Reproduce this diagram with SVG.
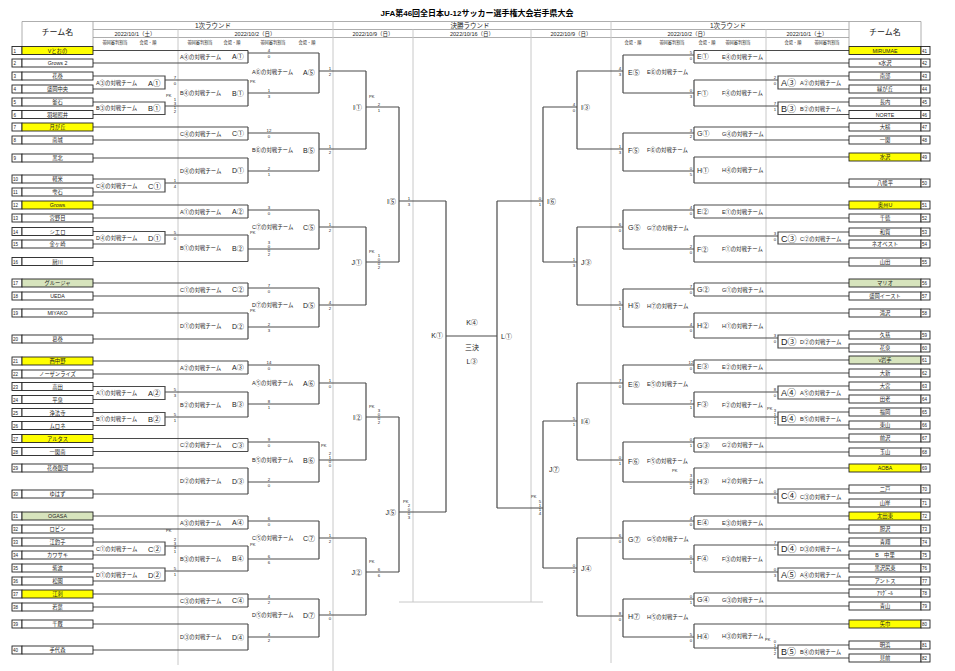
<svg xmlns="http://www.w3.org/2000/svg" width="955" height="671" viewBox="0 0 955 671">
<style>
text{font-family:"Liberation Sans","Noto Sans CJK JP",sans-serif;fill:#222}
.g{stroke:#c8c8c8;stroke-width:1;fill:none}
.gh{stroke:#999;stroke-width:0.8;fill:none}
.c{stroke:#4a4a4a;stroke-width:1.2;fill:none}
.nb{fill:#fff;stroke:#222;stroke-width:0.9}
.nm{fill:#fff;stroke:#222;stroke-width:0.9}
.y{fill:#ffff00}
.gr{fill:#d7e4bd}
.no{font-size:4.5px}
.tn{font-size:5.3px;text-anchor:middle}
.lb{font-size:5.4px}
.cd{font-size:7.5px}
.cl{font-size:9px}
.rd{font-size:7px}
.sc{font-size:4.3px;text-anchor:middle;fill:#5a78b0}
.pk{font-size:4px;fill:#333}
.hd{font-size:6.5px;text-anchor:middle}
.dt{font-size:5.5px;text-anchor:middle}
.sb{font-size:4.2px;text-anchor:middle}
.ti{font-size:8px;font-weight:bold;text-anchor:middle;fill:#000}
.ce{font-size:7px;text-anchor:middle}
</style>

<g id="header">
<text class="ti" x="477" y="16">JFA第46回全日本U-12サッカー選手権大会岩手県大会</text>
<path class="gh" d="M22 21.5H921 M93 29.5H849 M93 37.5H849 M22 21.5V46 M93 21.5V46 M849 21.5V46 M921 21.5V46"/>
<text class="hd" x="57.5" y="35" style="font-size:8px">チーム名</text>
<text class="hd" x="885" y="35" style="font-size:8px">チーム名</text>
<text class="hd" x="213" y="27.5">1次ラウンド</text>
<text class="hd" x="470" y="27.5">決勝ラウンド</text>
<text class="hd" x="728" y="27.5">1次ラウンド</text>
<text class="dt" x="135" y="35.5">2022/10/1（土）</text>
<text class="dt" x="255" y="35.5">2022/10/2（日）</text>
<text class="dt" x="373" y="35.5">2022/10/9（日）</text>
<text class="dt" x="472" y="35.5">2022/10/16（日）</text>
<text class="dt" x="571" y="35.5">2022/10/9（日）</text>
<text class="dt" x="688" y="35.5">2022/10/2（日）</text>
<text class="dt" x="807" y="35.5">2022/10/1（土）</text>
<text class="sb" x="115" y="44">帯同審判割当</text>
<text class="sb" x="148" y="44">会場・順</text>
<text class="sb" x="200" y="44">帯同審判割当</text>
<text class="sb" x="232" y="44">会場・順</text>
<text class="sb" x="273" y="44">帯同審判割当</text>
<text class="sb" x="307" y="44">会場・順</text>
<text class="sb" x="633" y="44">会場・順</text>
<text class="sb" x="672" y="44">帯同審判割当</text>
<text class="sb" x="707" y="44">会場・順</text>
<text class="sb" x="738" y="44">帯同審判割当</text>
<text class="sb" x="793" y="44">会場・順</text>
<text class="sb" x="827" y="44">帯同審判割当</text>
</g>

<g id="grid">
<path class="g" d="M178 29.5V665 M333 21.5V671 M413 29.5V602 M531 29.5V602 M611 21.5V663 M766 29.5V640 M399 602H543"/>
</g>

<g id="connectors" class="c">
<path d="M93 50.5H248 M93 63H248 M93 127H248 M93 140H248 M93 158H248 M93 205H248 M93 218H248 M93 261.5H248 M93 283H248 M93 296H248 M93 313H248 M93 339H248 M93 361H248 M93 374H248 M93 438.5H248 M93 451.5H248 M93 468H248 M93 494H248 M93 516H248 M93 529H248 M93 594H248 M93 607H248 M93 624H248 M93 650H248"/>
<path d="M93 76H165V89H93 M93 102H165V114.5H93 M93 179H165V192H93 M93 231.5H165V244H93 M93 386.5H165V399.5H93 M93 412.5H165V425.5H93 M93 542H165V555H93 M93 568H165V581H93"/>
<path d="M165 80H248 M165 106H248 M165 183H248 M165 235H248 M165 392H248 M165 417H248 M165 546H248 M165 571H248"/>
<path d="M248 50.5V63 M248 80V106 M248 127V140 M248 158V183 M248 205V218 M248 235V261.5 M248 283V296 M248 313V339 M248 361V374 M248 392V417 M248 438.5V451.5 M248 468V494 M248 516V529 M248 546V571 M248 594V607 M248 624V650"/>
<path d="M248 53H319 M248 93H319 M248 133H319 M248 171H319 M248 210H319 M248 249H319 M248 288H319 M248 327H319 M248 365H319 M248 404H319 M248 442H319 M248 482H319 M248 521H319 M248 559H319 M248 599H319 M248 637H319"/>
<path d="M319 53V93 M319 133V171 M319 210V249 M319 288V327 M319 365V404 M319 442V482 M319 521V559 M319 599V637"/>
<path d="M319 71H366 M319 149H366 M319 227H366 M319 305H366 M319 383H366 M319 460H366 M319 538H366 M319 615H366"/>
<path d="M366 71V149 M366 227V305 M366 383V460 M366 538V615 M366 107H399 M366 262H399 M366 417H399 M366 572H399"/>
<path d="M399 107V262 M399 417V572 M399 201H446 M399 512H446"/>
<path d="M446 201V512 M446 336H497 M497 201V508"/>
<path d="M497 201H543 M497 508H543 M543 107V262 M543 421V568 M543 107H577 M543 262H577 M543 421H577 M543 568H577"/>
<path d="M577 71V149 M577 227V305 M577 383V460 M577 538V616 M577 71H623 M577 149H623 M577 227H623 M577 305H623 M577 383H623 M577 460H623 M577 538H623 M577 616H623"/>
<path d="M623 55V93 M623 133V171 M623 210V249 M623 289V327 M623 365V404 M623 442V482 M623 521V559 M623 599V637"/>
<path d="M623 55H694 M623 93H694 M623 133H694 M623 171H694 M623 210H694 M623 249H694 M623 289H694 M623 327H694 M623 365H694 M623 404H694 M623 442H694 M623 482H694 M623 521H694 M623 559H694 M623 599H694 M623 637H694"/>
<path d="M694 50.5V63 M694 80V106 M694 127V140 M694 157V183 M694 205V218 M694 236V262 M694 283V296 M694 313V338 M694 360V373 M694 392V417 M694 438V452 M694 468V494 M694 516V529 M694 545V572 M694 593V606 M694 624V648"/>
<path d="M694 80H778 M694 106H778 M694 236H778 M694 338H778 M694 392H778 M694 417H778 M694 494H778 M694 545H778 M694 572H778 M694 648H778"/>
<path d="M849 76H778V89H849 M849 102H778V114.5H849 M849 232H778V244H849 M849 335H778V348H849 M849 386H778V399H849 M849 412H778V425H849 M849 489H778V503H849 M849 542H778V555H849 M849 568H778V581H849 M849 645H778V658H849"/>
<path d="M849 50.5H694 M849 63H694 M849 127H694 M849 140H694 M849 157H694 M849 183H694 M849 205H694 M849 218H694 M849 262H694 M849 283H694 M849 296H694 M849 313H694 M849 360H694 M849 373H694 M849 438H694 M849 452H694 M849 468H694 M849 516H694 M849 529H694 M849 593H694 M849 606H694 M849 624H694"/>
</g>

<g id="teams-left">
<g id="t1"><rect class="nb" x="12" y="46.5" width="10" height="8"/><rect class="nm y" x="22" y="46.5" width="71" height="8"/><text class="no" x="13.5" y="52.5">1</text><text class="tn" x="57.5" y="52.5">Vとおの</text></g>
<g id="t2"><rect class="nb" x="12" y="59" width="10" height="8"/><rect class="nm" x="22" y="59" width="71" height="8"/><text class="no" x="13.5" y="65">2</text><text class="tn" x="57.5" y="65">Grows 2</text></g>
<g id="t3"><rect class="nb" x="12" y="72" width="10" height="8"/><rect class="nm" x="22" y="72" width="71" height="8"/><text class="no" x="13.5" y="78">3</text><text class="tn" x="57.5" y="78">花巻</text></g>
<g id="t4"><rect class="nb" x="12" y="85" width="10" height="8"/><rect class="nm" x="22" y="85" width="71" height="8"/><text class="no" x="13.5" y="91">4</text><text class="tn" x="57.5" y="91">盛岡中央</text></g>
<g id="t5"><rect class="nb" x="12" y="98" width="10" height="8"/><rect class="nm" x="22" y="98" width="71" height="8"/><text class="no" x="13.5" y="104">5</text><text class="tn" x="57.5" y="104">釜石</text></g>
<g id="t6"><rect class="nb" x="12" y="110.5" width="10" height="8"/><rect class="nm" x="22" y="110.5" width="71" height="8"/><text class="no" x="13.5" y="116.5">6</text><text class="tn" x="57.5" y="116.5">羽場照井</text></g>
<g id="t7"><rect class="nb" x="12" y="123" width="10" height="8"/><rect class="nm y" x="22" y="123" width="71" height="8"/><text class="no" x="13.5" y="129">7</text><text class="tn" x="57.5" y="129">月が丘</text></g>
<g id="t8"><rect class="nb" x="12" y="136" width="10" height="8"/><rect class="nm" x="22" y="136" width="71" height="8"/><text class="no" x="13.5" y="142">8</text><text class="tn" x="57.5" y="142">南城</text></g>
<g id="t9"><rect class="nb" x="12" y="154" width="10" height="8"/><rect class="nm" x="22" y="154" width="71" height="8"/><text class="no" x="13.5" y="160">9</text><text class="tn" x="57.5" y="160">黒北</text></g>
<g id="t10"><rect class="nb" x="12" y="175" width="10" height="8"/><rect class="nm" x="22" y="175" width="71" height="8"/><text class="no" x="13" y="181">10</text><text class="tn" x="57.5" y="181">軽米</text></g>
<g id="t11"><rect class="nb" x="12" y="188" width="10" height="8"/><rect class="nm" x="22" y="188" width="71" height="8"/><text class="no" x="13" y="194">11</text><text class="tn" x="57.5" y="194">雫石</text></g>
<g id="t12"><rect class="nb" x="12" y="201" width="10" height="8"/><rect class="nm y" x="22" y="201" width="71" height="8"/><text class="no" x="13" y="207">12</text><text class="tn" x="57.5" y="207">Grows</text></g>
<g id="t13"><rect class="nb" x="12" y="214" width="10" height="8"/><rect class="nm" x="22" y="214" width="71" height="8"/><text class="no" x="13" y="220">13</text><text class="tn" x="57.5" y="220">宮野目</text></g>
<g id="t14"><rect class="nb" x="12" y="227.5" width="10" height="8"/><rect class="nm" x="22" y="227.5" width="71" height="8"/><text class="no" x="13" y="233.5">14</text><text class="tn" x="57.5" y="233.5">シエロ</text></g>
<g id="t15"><rect class="nb" x="12" y="240" width="10" height="8"/><rect class="nm" x="22" y="240" width="71" height="8"/><text class="no" x="13" y="246">15</text><text class="tn" x="57.5" y="246">金ヶ崎</text></g>
<g id="t16"><rect class="nb" x="12" y="257.5" width="10" height="8"/><rect class="nm" x="22" y="257.5" width="71" height="8"/><text class="no" x="13" y="263.5">16</text><text class="tn" x="57.5" y="263.5">厨川</text></g>
<g id="t17"><rect class="nb" x="12" y="279" width="10" height="8"/><rect class="nm gr" x="22" y="279" width="71" height="8"/><text class="no" x="13" y="285">17</text><text class="tn" x="57.5" y="285">グルージャ</text></g>
<g id="t18"><rect class="nb" x="12" y="292" width="10" height="8"/><rect class="nm" x="22" y="292" width="71" height="8"/><text class="no" x="13" y="298">18</text><text class="tn" x="57.5" y="298">UEDA</text></g>
<g id="t19"><rect class="nb" x="12" y="309" width="10" height="8"/><rect class="nm" x="22" y="309" width="71" height="8"/><text class="no" x="13" y="315">19</text><text class="tn" x="57.5" y="315">MIYAKO</text></g>
<g id="t20"><rect class="nb" x="12" y="335" width="10" height="8"/><rect class="nm" x="22" y="335" width="71" height="8"/><text class="no" x="13" y="341">20</text><text class="tn" x="57.5" y="341">葛巻</text></g>
<g id="t21"><rect class="nb" x="12" y="357" width="10" height="8"/><rect class="nm y" x="22" y="357" width="71" height="8"/><text class="no" x="13" y="363">21</text><text class="tn" x="57.5" y="363">西中野</text></g>
<g id="t22"><rect class="nb" x="12" y="370" width="10" height="8"/><rect class="nm" x="22" y="370" width="71" height="8"/><text class="no" x="13" y="376">22</text><text class="tn" x="57.5" y="376">ノーザンライズ</text></g>
<g id="t23"><rect class="nb" x="12" y="382.5" width="10" height="8"/><rect class="nm" x="22" y="382.5" width="71" height="8"/><text class="no" x="13" y="388.5">23</text><text class="tn" x="57.5" y="388.5">高田</text></g>
<g id="t24"><rect class="nb" x="12" y="395.5" width="10" height="8"/><rect class="nm" x="22" y="395.5" width="71" height="8"/><text class="no" x="13" y="401.5">24</text><text class="tn" x="57.5" y="401.5">平泉</text></g>
<g id="t25"><rect class="nb" x="12" y="408.5" width="10" height="8"/><rect class="nm" x="22" y="408.5" width="71" height="8"/><text class="no" x="13" y="414.5">25</text><text class="tn" x="57.5" y="414.5">浄法寺</text></g>
<g id="t26"><rect class="nb" x="12" y="421.5" width="10" height="8"/><rect class="nm" x="22" y="421.5" width="71" height="8"/><text class="no" x="13" y="427.5">26</text><text class="tn" x="57.5" y="427.5">ムロネ</text></g>
<g id="t27"><rect class="nb" x="12" y="434.5" width="10" height="8"/><rect class="nm y" x="22" y="434.5" width="71" height="8"/><text class="no" x="13" y="440.5">27</text><text class="tn" x="57.5" y="440.5">アルタス</text></g>
<g id="t28"><rect class="nb" x="12" y="447.5" width="10" height="8"/><rect class="nm" x="22" y="447.5" width="71" height="8"/><text class="no" x="13" y="453.5">28</text><text class="tn" x="57.5" y="453.5">一関南</text></g>
<g id="t29"><rect class="nb" x="12" y="464" width="10" height="8"/><rect class="nm" x="22" y="464" width="71" height="8"/><text class="no" x="13" y="470">29</text><text class="tn" x="57.5" y="470">花巻銀河</text></g>
<g id="t30"><rect class="nb" x="12" y="490" width="10" height="8"/><rect class="nm" x="22" y="490" width="71" height="8"/><text class="no" x="13" y="496">30</text><text class="tn" x="57.5" y="496">ゆはず</text></g>
<g id="t31"><rect class="nb" x="12" y="512" width="10" height="8"/><rect class="nm gr" x="22" y="512" width="71" height="8"/><text class="no" x="13" y="518">31</text><text class="tn" x="57.5" y="518">OGASA</text></g>
<g id="t32"><rect class="nb" x="12" y="525" width="10" height="8"/><rect class="nm" x="22" y="525" width="71" height="8"/><text class="no" x="13" y="531">32</text><text class="tn" x="57.5" y="531">ロビン</text></g>
<g id="t33"><rect class="nb" x="12" y="538" width="10" height="8"/><rect class="nm" x="22" y="538" width="71" height="8"/><text class="no" x="13" y="544">33</text><text class="tn" x="57.5" y="544">江釣子</text></g>
<g id="t34"><rect class="nb" x="12" y="551" width="10" height="8"/><rect class="nm" x="22" y="551" width="71" height="8"/><text class="no" x="13" y="557">34</text><text class="tn" x="57.5" y="557">カワサキ</text></g>
<g id="t35"><rect class="nb" x="12" y="564" width="10" height="8"/><rect class="nm" x="22" y="564" width="71" height="8"/><text class="no" x="13" y="570">35</text><text class="tn" x="57.5" y="570">紫波</text></g>
<g id="t36"><rect class="nb" x="12" y="577" width="10" height="8"/><rect class="nm" x="22" y="577" width="71" height="8"/><text class="no" x="13" y="583">36</text><text class="tn" x="57.5" y="583">松園</text></g>
<g id="t37"><rect class="nb" x="12" y="590" width="10" height="8"/><rect class="nm y" x="22" y="590" width="71" height="8"/><text class="no" x="13" y="596">37</text><text class="tn" x="57.5" y="596">江刺</text></g>
<g id="t38"><rect class="nb" x="12" y="603" width="10" height="8"/><rect class="nm" x="22" y="603" width="71" height="8"/><text class="no" x="13" y="609">38</text><text class="tn" x="57.5" y="609">若葉</text></g>
<g id="t39"><rect class="nb" x="12" y="620" width="10" height="8"/><rect class="nm" x="22" y="620" width="71" height="8"/><text class="no" x="13" y="626">39</text><text class="tn" x="57.5" y="626">千厩</text></g>
<g id="t40"><rect class="nb" x="12" y="646" width="10" height="8"/><rect class="nm" x="22" y="646" width="71" height="8"/><text class="no" x="13" y="652">40</text><text class="tn" x="57.5" y="652">手代森</text></g>
</g>

<g id="teams-right">
<g id="t41"><rect class="nm y" x="849" y="46.5" width="72" height="8"/><rect class="nb" x="921" y="46.5" width="9" height="8"/><text class="tn" x="885" y="52.5">MIRUMAE</text><text class="no" x="922" y="52.5">41</text></g>
<g id="t42"><rect class="nm" x="849" y="59" width="72" height="8"/><rect class="nb" x="921" y="59" width="9" height="8"/><text class="tn" x="885" y="65">s水沢</text><text class="no" x="922" y="65">42</text></g>
<g id="t43"><rect class="nm" x="849" y="72" width="72" height="8"/><rect class="nb" x="921" y="72" width="9" height="8"/><text class="tn" x="885" y="78">南部</text><text class="no" x="922" y="78">43</text></g>
<g id="t44"><rect class="nm" x="849" y="85" width="72" height="8"/><rect class="nb" x="921" y="85" width="9" height="8"/><text class="tn" x="885" y="91">緑が丘</text><text class="no" x="922" y="91">44</text></g>
<g id="t45"><rect class="nm" x="849" y="98" width="72" height="8"/><rect class="nb" x="921" y="98" width="9" height="8"/><text class="tn" x="885" y="104">長内</text><text class="no" x="922" y="104">45</text></g>
<g id="t46"><rect class="nm" x="849" y="110.5" width="72" height="8"/><rect class="nb" x="921" y="110.5" width="9" height="8"/><text class="tn" x="885" y="116.5">NORTE</text><text class="no" x="922" y="116.5">46</text></g>
<g id="t47"><rect class="nm" x="849" y="123" width="72" height="8"/><rect class="nb" x="921" y="123" width="9" height="8"/><text class="tn" x="885" y="129">大槌</text><text class="no" x="922" y="129">47</text></g>
<g id="t48"><rect class="nm" x="849" y="136" width="72" height="8"/><rect class="nb" x="921" y="136" width="9" height="8"/><text class="tn" x="885" y="142">一関</text><text class="no" x="922" y="142">48</text></g>
<g id="t49"><rect class="nm y" x="849" y="153" width="72" height="8"/><rect class="nb" x="921" y="153" width="9" height="8"/><text class="tn" x="885" y="159">水沢</text><text class="no" x="922" y="159">49</text></g>
<g id="t50"><rect class="nm" x="849" y="179" width="72" height="8"/><rect class="nb" x="921" y="179" width="9" height="8"/><text class="tn" x="885" y="185">八幡平</text><text class="no" x="922" y="185">50</text></g>
<g id="t51"><rect class="nm y" x="849" y="201" width="72" height="8"/><rect class="nb" x="921" y="201" width="9" height="8"/><text class="tn" x="885" y="207">奥州U</text><text class="no" x="922" y="207">51</text></g>
<g id="t52"><rect class="nm" x="849" y="214" width="72" height="8"/><rect class="nb" x="921" y="214" width="9" height="8"/><text class="tn" x="885" y="220">千徳</text><text class="no" x="922" y="220">52</text></g>
<g id="t53"><rect class="nm" x="849" y="228" width="72" height="8"/><rect class="nb" x="921" y="228" width="9" height="8"/><text class="tn" x="885" y="234">和賀</text><text class="no" x="922" y="234">53</text></g>
<g id="t54"><rect class="nm" x="849" y="240" width="72" height="8"/><rect class="nb" x="921" y="240" width="9" height="8"/><text class="tn" x="885" y="246">ネオベスト</text><text class="no" x="922" y="246">54</text></g>
<g id="t55"><rect class="nm" x="849" y="258" width="72" height="8"/><rect class="nb" x="921" y="258" width="9" height="8"/><text class="tn" x="885" y="264">山田</text><text class="no" x="922" y="264">55</text></g>
<g id="t56"><rect class="nm gr" x="849" y="279" width="72" height="8"/><rect class="nb" x="921" y="279" width="9" height="8"/><text class="tn" x="885" y="285">マリオ</text><text class="no" x="922" y="285">56</text></g>
<g id="t57"><rect class="nm" x="849" y="292" width="72" height="8"/><rect class="nb" x="921" y="292" width="9" height="8"/><text class="tn" x="885" y="298">盛岡イースト</text><text class="no" x="922" y="298">57</text></g>
<g id="t58"><rect class="nm" x="849" y="309" width="72" height="8"/><rect class="nb" x="921" y="309" width="9" height="8"/><text class="tn" x="885" y="315">滝沢</text><text class="no" x="922" y="315">58</text></g>
<g id="t59"><rect class="nm" x="849" y="331" width="72" height="8"/><rect class="nb" x="921" y="331" width="9" height="8"/><text class="tn" x="885" y="337">久慈</text><text class="no" x="922" y="337">59</text></g>
<g id="t60"><rect class="nm" x="849" y="344" width="72" height="8"/><rect class="nb" x="921" y="344" width="9" height="8"/><text class="tn" x="885" y="350">花泉</text><text class="no" x="922" y="350">60</text></g>
<g id="t61"><rect class="nm gr" x="849" y="356" width="72" height="8"/><rect class="nb" x="921" y="356" width="9" height="8"/><text class="tn" x="885" y="362">v岩手</text><text class="no" x="922" y="362">61</text></g>
<g id="t62"><rect class="nm" x="849" y="369" width="72" height="8"/><rect class="nb" x="921" y="369" width="9" height="8"/><text class="tn" x="885" y="375">大新</text><text class="no" x="922" y="375">62</text></g>
<g id="t63"><rect class="nm" x="849" y="382" width="72" height="8"/><rect class="nb" x="921" y="382" width="9" height="8"/><text class="tn" x="885" y="388">大宮</text><text class="no" x="922" y="388">63</text></g>
<g id="t64"><rect class="nm" x="849" y="395" width="72" height="8"/><rect class="nb" x="921" y="395" width="9" height="8"/><text class="tn" x="885" y="401">田老</text><text class="no" x="922" y="401">64</text></g>
<g id="t65"><rect class="nm" x="849" y="408" width="72" height="8"/><rect class="nb" x="921" y="408" width="9" height="8"/><text class="tn" x="885" y="414">福岡</text><text class="no" x="922" y="414">65</text></g>
<g id="t66"><rect class="nm" x="849" y="421" width="72" height="8"/><rect class="nb" x="921" y="421" width="9" height="8"/><text class="tn" x="885" y="427">東山</text><text class="no" x="922" y="427">66</text></g>
<g id="t67"><rect class="nm" x="849" y="434" width="72" height="8"/><rect class="nb" x="921" y="434" width="9" height="8"/><text class="tn" x="885" y="440">前沢</text><text class="no" x="922" y="440">67</text></g>
<g id="t68"><rect class="nm" x="849" y="448" width="72" height="8"/><rect class="nb" x="921" y="448" width="9" height="8"/><text class="tn" x="885" y="454">玉山</text><text class="no" x="922" y="454">68</text></g>
<g id="t69"><rect class="nm y" x="849" y="464" width="72" height="8"/><rect class="nb" x="921" y="464" width="9" height="8"/><text class="tn" x="885" y="470">AOBA</text><text class="no" x="922" y="470">69</text></g>
<g id="t70"><rect class="nm" x="849" y="485" width="72" height="8"/><rect class="nb" x="921" y="485" width="9" height="8"/><text class="tn" x="885" y="491">二戸</text><text class="no" x="922" y="491">70</text></g>
<g id="t71"><rect class="nm" x="849" y="499" width="72" height="8"/><rect class="nb" x="921" y="499" width="9" height="8"/><text class="tn" x="885" y="505">山岸</text><text class="no" x="922" y="505">71</text></g>
<g id="t72"><rect class="nm y" x="849" y="512" width="72" height="8"/><rect class="nb" x="921" y="512" width="9" height="8"/><text class="tn" x="885" y="518">太田東</text><text class="no" x="922" y="518">72</text></g>
<g id="t73"><rect class="nm" x="849" y="525" width="72" height="8"/><rect class="nb" x="921" y="525" width="9" height="8"/><text class="tn" x="885" y="531">胆沢</text><text class="no" x="922" y="531">73</text></g>
<g id="t74"><rect class="nm" x="849" y="538" width="72" height="8"/><rect class="nb" x="921" y="538" width="9" height="8"/><text class="tn" x="885" y="544">青翔</text><text class="no" x="922" y="544">74</text></g>
<g id="t75"><rect class="nm" x="849" y="551" width="72" height="8"/><rect class="nb" x="921" y="551" width="9" height="8"/><text class="tn" x="885" y="557">B　中里</text><text class="no" x="922" y="557">75</text></g>
<g id="t76"><rect class="nm" x="849" y="564" width="72" height="8"/><rect class="nb" x="921" y="564" width="9" height="8"/><text class="tn" x="885" y="570">黒沢尻東</text><text class="no" x="922" y="570">76</text></g>
<g id="t77"><rect class="nm" x="849" y="577" width="72" height="8"/><rect class="nb" x="921" y="577" width="9" height="8"/><text class="tn" x="885" y="583">アントス</text><text class="no" x="922" y="583">77</text></g>
<g id="t78"><rect class="nm" x="849" y="589" width="72" height="8"/><rect class="nb" x="921" y="589" width="9" height="8"/><text class="tn" x="885" y="595">ｱﾘｸﾞｰﾙ</text><text class="no" x="922" y="595">78</text></g>
<g id="t79"><rect class="nm" x="849" y="602" width="72" height="8"/><rect class="nb" x="921" y="602" width="9" height="8"/><text class="tn" x="885" y="608">青山</text><text class="no" x="922" y="608">79</text></g>
<g id="t80"><rect class="nm y" x="849" y="620" width="72" height="8"/><rect class="nb" x="921" y="620" width="9" height="8"/><text class="tn" x="885" y="626">矢巾</text><text class="no" x="922" y="626">80</text></g>
<g id="t81"><rect class="nm" x="849" y="641" width="72" height="8"/><rect class="nb" x="921" y="641" width="9" height="8"/><text class="tn" x="885" y="647">明浜</text><text class="no" x="922" y="647">81</text></g>
<g id="t82"><rect class="nm" x="849" y="654" width="72" height="8"/><rect class="nb" x="921" y="654" width="9" height="8"/><text class="tn" x="885" y="660">見前</text><text class="no" x="922" y="660">82</text></g>
</g>

<g id="left-round1">
<g id="L1-A1"><text class="lb" x="96" y="84.5">A③の対戦チーム</text><text class="cd" x="148" y="85.5">A①</text></g>
<g id="L1-B1"><text class="lb" x="96" y="110">B③の対戦チーム</text><text class="cd" x="148" y="111">B①</text></g>
<g id="L1-C1"><text class="lb" x="96" y="187.5">C④の対戦チーム</text><text class="cd" x="148" y="188.5">C①</text></g>
<g id="L1-D1"><text class="lb" x="96" y="240">D④の対戦チーム</text><text class="cd" x="148" y="241">D①</text></g>
<g id="L1-A2"><text class="lb" x="96" y="395">A①の対戦チーム</text><text class="cd" x="148" y="396">A②</text></g>
<g id="L1-B2"><text class="lb" x="96" y="421">B①の対戦チーム</text><text class="cd" x="148" y="422">B②</text></g>
<g id="L1-C2"><text class="lb" x="96" y="550.5">C①の対戦チーム</text><text class="cd" x="148" y="551.5">C②</text></g>
<g id="L1-D2"><text class="lb" x="96" y="576.5">D①の対戦チーム</text><text class="cd" x="148" y="577.5">D②</text></g>
</g>

<g id="left-round2">
<g id="L2-A1"><text class="lb" x="180" y="58.5">A④の対戦チーム</text><text class="rd" x="232" y="59">A①</text></g>
<g id="L2-B1"><text class="lb" x="180" y="95">B④の対戦チーム</text><text class="rd" x="232" y="95.5">B①</text></g>
<g id="L2-C1"><text class="lb" x="180" y="135.5">C④の対戦チーム</text><text class="rd" x="232" y="136">C①</text></g>
<g id="L2-D1"><text class="lb" x="180" y="172.5">D④の対戦チーム</text><text class="rd" x="232" y="173">D①</text></g>
<g id="L2-A2"><text class="lb" x="180" y="213.5">A①の対戦チーム</text><text class="rd" x="232" y="214">A②</text></g>
<g id="L2-B2"><text class="lb" x="180" y="250">B①の対戦チーム</text><text class="rd" x="232" y="250.5">B②</text></g>
<g id="L2-C2"><text class="lb" x="180" y="291.5">C①の対戦チーム</text><text class="rd" x="232" y="292">C②</text></g>
<g id="L2-D2"><text class="lb" x="180" y="328">D①の対戦チーム</text><text class="rd" x="232" y="328.5">D②</text></g>
<g id="L2-A3"><text class="lb" x="180" y="369.5">A②の対戦チーム</text><text class="rd" x="232" y="370">A③</text></g>
<g id="L2-B3"><text class="lb" x="180" y="406.5">B②の対戦チーム</text><text class="rd" x="232" y="407">B③</text></g>
<g id="L2-C3"><text class="lb" x="180" y="447">C②の対戦チーム</text><text class="rd" x="232" y="447.5">C③</text></g>
<g id="L2-D3"><text class="lb" x="180" y="483">D②の対戦チーム</text><text class="rd" x="232" y="483.5">D③</text></g>
<g id="L2-A4"><text class="lb" x="180" y="524.5">A③の対戦チーム</text><text class="rd" x="232" y="525">A④</text></g>
<g id="L2-B4"><text class="lb" x="180" y="560.5">B③の対戦チーム</text><text class="rd" x="232" y="561">B④</text></g>
<g id="L2-C4"><text class="lb" x="180" y="602.5">C③の対戦チーム</text><text class="rd" x="232" y="603">C④</text></g>
<g id="L2-D4"><text class="lb" x="180" y="639">D③の対戦チーム</text><text class="rd" x="232" y="639.5">D④</text></g>
</g>

<g id="left-round3">
<g id="L3-A5"><text class="lb" x="252" y="74">A⑥の対戦チーム</text><text class="rd" x="303" y="74.5">A⑤</text></g>
<g id="L3-B5"><text class="lb" x="252" y="152">B⑥の対戦チーム</text><text class="rd" x="303" y="152.5">B⑤</text></g>
<g id="L3-C5"><text class="lb" x="252" y="229">C⑦の対戦チーム</text><text class="rd" x="303" y="229.5">C⑤</text></g>
<g id="L3-D5"><text class="lb" x="252" y="307">D⑦の対戦チーム</text><text class="rd" x="303" y="307.5">D⑤</text></g>
<g id="L3-A6"><text class="lb" x="252" y="385">A⑤の対戦チーム</text><text class="rd" x="303" y="385.5">A⑥</text></g>
<g id="L3-B6"><text class="lb" x="252" y="462">B⑤の対戦チーム</text><text class="rd" x="303" y="462.5">B⑥</text></g>
<g id="L3-C7"><text class="lb" x="252" y="540">C⑤の対戦チーム</text><text class="rd" x="303" y="540.5">C⑦</text></g>
<g id="L3-D7"><text class="lb" x="252" y="617">D⑤の対戦チーム</text><text class="rd" x="303" y="617.5">D⑦</text></g>
</g>

<g id="final-round">
<g id="I1"><text class="rd" x="362" y="109.5" text-anchor="end">I①</text></g>
<g id="J1"><text class="rd" x="362" y="264.5" text-anchor="end">J①</text></g>
<g id="I2"><text class="rd" x="362" y="419.5" text-anchor="end">I②</text></g>
<g id="J2"><text class="rd" x="362" y="574.5" text-anchor="end">J②</text></g>
<g id="I5"><text class="rd" x="396" y="203.5" text-anchor="end">I⑤</text></g>
<g id="J5"><text class="rd" x="396" y="514.5" text-anchor="end">J⑤</text></g>
<g id="K1"><text class="rd" x="443" y="338" text-anchor="end">K①</text></g>
<g id="L1"><text class="rd" x="501" y="338.5">L①</text></g>
<g id="third"><text class="ce" x="472" y="324.5">K④</text><text class="ce" x="472" y="350">三決</text><text class="ce" x="472" y="363.5">L③</text></g>
<g id="I6"><text class="rd" x="547" y="203.5">I⑥</text></g>
<g id="J7"><text class="rd" x="549" y="471.5">J⑦</text></g>
<g id="I3"><text class="rd" x="581" y="109.5">I③</text></g>
<g id="J3"><text class="rd" x="581" y="264.5">J③</text></g>
<g id="I4"><text class="rd" x="581" y="423.5">I④</text></g>
<g id="J4"><text class="rd" x="581" y="570.5">J④</text></g>
</g>

<g id="right-round3">
<g id="R3-E5"><text class="rd" x="628" y="74.5">E⑤</text><text class="lb" x="647" y="74">E⑥の対戦チーム</text></g>
<g id="R3-F5"><text class="rd" x="628" y="152.5">F⑤</text><text class="lb" x="647" y="152">F⑥の対戦チーム</text></g>
<g id="R3-G5"><text class="rd" x="628" y="230">G⑤</text><text class="lb" x="647" y="229.5">G⑦の対戦チーム</text></g>
<g id="R3-H5"><text class="rd" x="628" y="308">H⑤</text><text class="lb" x="647" y="307.5">H⑦の対戦チーム</text></g>
<g id="R3-E6"><text class="rd" x="628" y="386.5">E⑥</text><text class="lb" x="647" y="386">E⑤の対戦チーム</text></g>
<g id="R3-F6"><text class="rd" x="628" y="463.5">F⑥</text><text class="lb" x="647" y="463">F⑤の対戦チーム</text></g>
<g id="R3-G7"><text class="rd" x="628" y="541.5">G⑦</text><text class="lb" x="647" y="541">G⑤の対戦チーム</text></g>
<g id="R3-H7"><text class="rd" x="628" y="619">H⑦</text><text class="lb" x="647" y="618.5">H⑤の対戦チーム</text></g>
</g>

<g id="right-round2">
<g id="R2-E1"><text class="rd" x="697" y="59">E①</text><text class="lb" x="722" y="58.5">E④の対戦チーム</text></g>
<g id="R2-F1"><text class="rd" x="697" y="95.5">F①</text><text class="lb" x="722" y="95">F④の対戦チーム</text></g>
<g id="R2-G1"><text class="rd" x="697" y="136">G①</text><text class="lb" x="722" y="135.5">G④の対戦チーム</text></g>
<g id="R2-H1"><text class="rd" x="697" y="172.5">H①</text><text class="lb" x="722" y="172">H④の対戦チーム</text></g>
<g id="R2-E2"><text class="rd" x="697" y="214">E②</text><text class="lb" x="722" y="213.5">E①の対戦チーム</text></g>
<g id="R2-F2"><text class="rd" x="697" y="251.5">F②</text><text class="lb" x="722" y="251">F①の対戦チーム</text></g>
<g id="R2-G2"><text class="rd" x="697" y="292">G②</text><text class="lb" x="722" y="291.5">G①の対戦チーム</text></g>
<g id="R2-H2"><text class="rd" x="697" y="328">H②</text><text class="lb" x="722" y="327.5">H①の対戦チーム</text></g>
<g id="R2-E3"><text class="rd" x="697" y="369">E③</text><text class="lb" x="722" y="368.5">E②の対戦チーム</text></g>
<g id="R2-F3"><text class="rd" x="697" y="407">F③</text><text class="lb" x="722" y="406.5">F②の対戦チーム</text></g>
<g id="R2-G3"><text class="rd" x="697" y="447.5">G③</text><text class="lb" x="722" y="447">G②の対戦チーム</text></g>
<g id="R2-H3"><text class="rd" x="697" y="483.5">H③</text><text class="lb" x="722" y="483">H②の対戦チーム</text></g>
<g id="R2-E4"><text class="rd" x="697" y="525">E④</text><text class="lb" x="722" y="524.5">E③の対戦チーム</text></g>
<g id="R2-F4"><text class="rd" x="697" y="561">F④</text><text class="lb" x="722" y="560.5">F③の対戦チーム</text></g>
<g id="R2-G4"><text class="rd" x="697" y="602">G④</text><text class="lb" x="722" y="601.5">G③の対戦チーム</text></g>
<g id="R2-H4"><text class="rd" x="697" y="638.5">H④</text><text class="lb" x="722" y="638">H③の対戦チーム</text></g>
</g>

<g id="right-round1">
<g id="R1-A3"><text class="cl" x="781" y="85.5">A③</text><text class="lb" x="800" y="85">A②の対戦チーム</text></g>
<g id="R1-B3"><text class="cl" x="781" y="111.5">B③</text><text class="lb" x="800" y="111">B②の対戦チーム</text></g>
<g id="R1-C3"><text class="cl" x="781" y="241.5">C③</text><text class="lb" x="800" y="241">C②の対戦チーム</text></g>
<g id="R1-D3"><text class="cl" x="781" y="344.5">D③</text><text class="lb" x="800" y="344">D②の対戦チーム</text></g>
<g id="R1-A4"><text class="cl" x="781" y="395.5">A④</text><text class="lb" x="800" y="395">A⑤の対戦チーム</text></g>
<g id="R1-B4"><text class="cl" x="781" y="421.5">B④</text><text class="lb" x="800" y="421">B⑤の対戦チーム</text></g>
<g id="R1-C4"><text class="cl" x="781" y="499">C④</text><text class="lb" x="800" y="498.5">C③の対戦チーム</text></g>
<g id="R1-D4"><text class="cl" x="781" y="551.5">D④</text><text class="lb" x="800" y="551">D③の対戦チーム</text></g>
<g id="R1-A5"><text class="cl" x="781" y="577.5">A⑤</text><text class="lb" x="800" y="577">A④の対戦チーム</text></g>
<g id="R1-B5"><text class="cl" x="781" y="654.5">B⑤</text><text class="lb" x="800" y="654">B④の対戦チーム</text></g>
</g>

<g id="scores">
<g class="sc">
<text x="175" y="79">7</text><text x="175" y="84.5">0</text>
<text x="175" y="101">1</text><text x="175" y="105">3</text><text x="175" y="109">1</text><text x="175" y="113">2</text>
<text x="175" y="182">1</text><text x="175" y="187.5">4</text>
<text x="175" y="234">5</text><text x="175" y="239.5">0</text>
<text x="175" y="391">5</text><text x="175" y="396.5">3</text>
<text x="175" y="416">5</text><text x="175" y="421.5">1</text>
<text x="175" y="541">2</text><text x="175" y="545">3</text><text x="175" y="549">3</text><text x="175" y="553">1</text>
<text x="175" y="570">5</text><text x="175" y="575.5">1</text>

<text x="269" y="52">4</text><text x="269" y="57.5">0</text>
<text x="269" y="92">1</text><text x="269" y="97.5">3</text>
<text x="269" y="132">12</text><text x="269" y="137.5">0</text>
<text x="269" y="170">2</text><text x="269" y="175.5">1</text>
<text x="269" y="209">3</text><text x="269" y="214.5">0</text>
<text x="269" y="244">3</text><text x="269" y="248">0</text><text x="269" y="252">0</text><text x="269" y="256">2</text>
<text x="269" y="287">7</text><text x="269" y="292.5">0</text>
<text x="269" y="326">2</text><text x="269" y="331.5">3</text>
<text x="269" y="364">14</text><text x="269" y="369.5">0</text>
<text x="269" y="403">8</text><text x="269" y="408.5">1</text>
<text x="269" y="441">9</text><text x="269" y="446.5">0</text>
<text x="269" y="481">2</text><text x="269" y="486.5">0</text>
<text x="269" y="520">6</text><text x="269" y="525.5">0</text>
<text x="269" y="558">6</text><text x="269" y="563.5">6</text>
<text x="269" y="598">4</text><text x="269" y="603.5">2</text>
<text x="269" y="636">4</text><text x="269" y="641.5">2</text>

<text x="330" y="70">1</text><text x="330" y="75.5">2</text>
<text x="330" y="148">1</text><text x="330" y="153.5">2</text>
<text x="330" y="226">1</text><text x="330" y="231.5">2</text>
<text x="330" y="304">4</text><text x="330" y="309.5">2</text>
<text x="330" y="382">1</text><text x="330" y="387.5">0</text>
<text x="330" y="455">2</text><text x="330" y="459">1</text><text x="330" y="463">0</text><text x="330" y="467">0</text>
<text x="330" y="537">1</text><text x="330" y="542.5">2</text>
<text x="330" y="614">1</text><text x="330" y="619.5">0</text>

<text x="379" y="106">2</text><text x="379" y="111.5">1</text>
<text x="379" y="257">1</text><text x="379" y="261">0</text><text x="379" y="265">0</text><text x="379" y="269">2</text>
<text x="379" y="412">3</text><text x="379" y="416">0</text><text x="379" y="420">0</text><text x="379" y="424">2</text>
<text x="379" y="571">6</text><text x="379" y="576.5">6</text>
<text x="409" y="200">1</text><text x="409" y="205.5">3</text>
<text x="409" y="507">2</text><text x="409" y="511">0</text><text x="409" y="515">0</text><text x="409" y="519">3</text>

<text x="540" y="200">0</text><text x="540" y="205.5">1</text>
<text x="540" y="503">5</text><text x="540" y="507">1</text><text x="540" y="511">1</text><text x="540" y="515">4</text>
<text x="574" y="106">4</text><text x="574" y="111.5">0</text>
<text x="574" y="261">1</text><text x="574" y="266.5">3</text>
<text x="574" y="420">5</text><text x="574" y="425.5">1</text>
<text x="574" y="567">0</text><text x="574" y="572.5">2</text>

<text x="620" y="70">4</text><text x="620" y="75.5">3</text>
<text x="620" y="148">1</text><text x="620" y="153.5">3</text>
<text x="620" y="226">6</text><text x="620" y="231.5">0</text>
<text x="620" y="304">5</text><text x="620" y="309.5">1</text>
<text x="620" y="382">7</text><text x="620" y="387.5">0</text>
<text x="620" y="459">0</text><text x="620" y="464.5">1</text>
<text x="620" y="537">6</text><text x="620" y="542.5">0</text>
<text x="620" y="615">8</text><text x="620" y="620.5">0</text>

<text x="691" y="54">5</text><text x="691" y="59.5">0</text>
<text x="691" y="92">0</text><text x="691" y="97.5">3</text>
<text x="691" y="132">3</text><text x="691" y="137.5">2</text>
<text x="691" y="170">0</text><text x="691" y="175.5">5</text>
<text x="691" y="209">4</text><text x="691" y="214.5">0</text>
<text x="691" y="248">2</text><text x="691" y="253.5">0</text>
<text x="691" y="288">7</text><text x="691" y="293.5">0</text>
<text x="691" y="326">4</text><text x="691" y="331.5">0</text>
<text x="691" y="364">12</text><text x="691" y="369.5">0</text>
<text x="691" y="403">7</text><text x="691" y="408.5">1</text>
<text x="691" y="441">0</text><text x="691" y="446.5">1</text>
<text x="691" y="477">3</text><text x="691" y="481">0</text><text x="691" y="485">0</text><text x="691" y="489">2</text>
<text x="691" y="520">4</text><text x="691" y="525.5">0</text>
<text x="691" y="558">0</text><text x="691" y="563.5">1</text>
<text x="691" y="598">0</text><text x="691" y="603.5">1</text>
<text x="691" y="636">5</text><text x="691" y="641.5">0</text>

<text x="775" y="79">2</text><text x="775" y="84.5">0</text>
<text x="775" y="105">7</text><text x="775" y="110.5">1</text>
<text x="775" y="235">3</text><text x="775" y="240.5">0</text>
<text x="775" y="337">3</text><text x="775" y="342.5">0</text>
<text x="775" y="391">8</text><text x="775" y="396.5">0</text>
<text x="775" y="412">3</text><text x="775" y="416">1</text><text x="775" y="420">1</text><text x="775" y="424">1</text>
<text x="775" y="493">0</text><text x="775" y="498.5">6</text>
<text x="775" y="544">7</text><text x="775" y="549.5">1</text>
<text x="775" y="571">0</text><text x="775" y="576.5">3</text>
<text x="775" y="643">0</text><text x="775" y="647">1</text><text x="775" y="651">1</text><text x="775" y="655">2</text>
</g>
<g class="pk">
<text x="166" y="97">PK</text><text x="166" y="532">PK</text>
<text x="250" y="83">PK</text><text x="250" y="234">PK</text><text x="250" y="312">PK</text><text x="250" y="546">PK</text>
<text x="321" y="447">PK</text>
<text x="369" y="98">PK</text><text x="369" y="253">PK</text><text x="369" y="408">PK</text><text x="369" y="563">PK</text>
<text x="403" y="503">PK</text>
<text x="531" y="498">PK</text>
<text x="672" y="472">PK</text>
<text x="767" y="410">PK</text><text x="765" y="641">PK</text>
</g>
</g>
</svg>
